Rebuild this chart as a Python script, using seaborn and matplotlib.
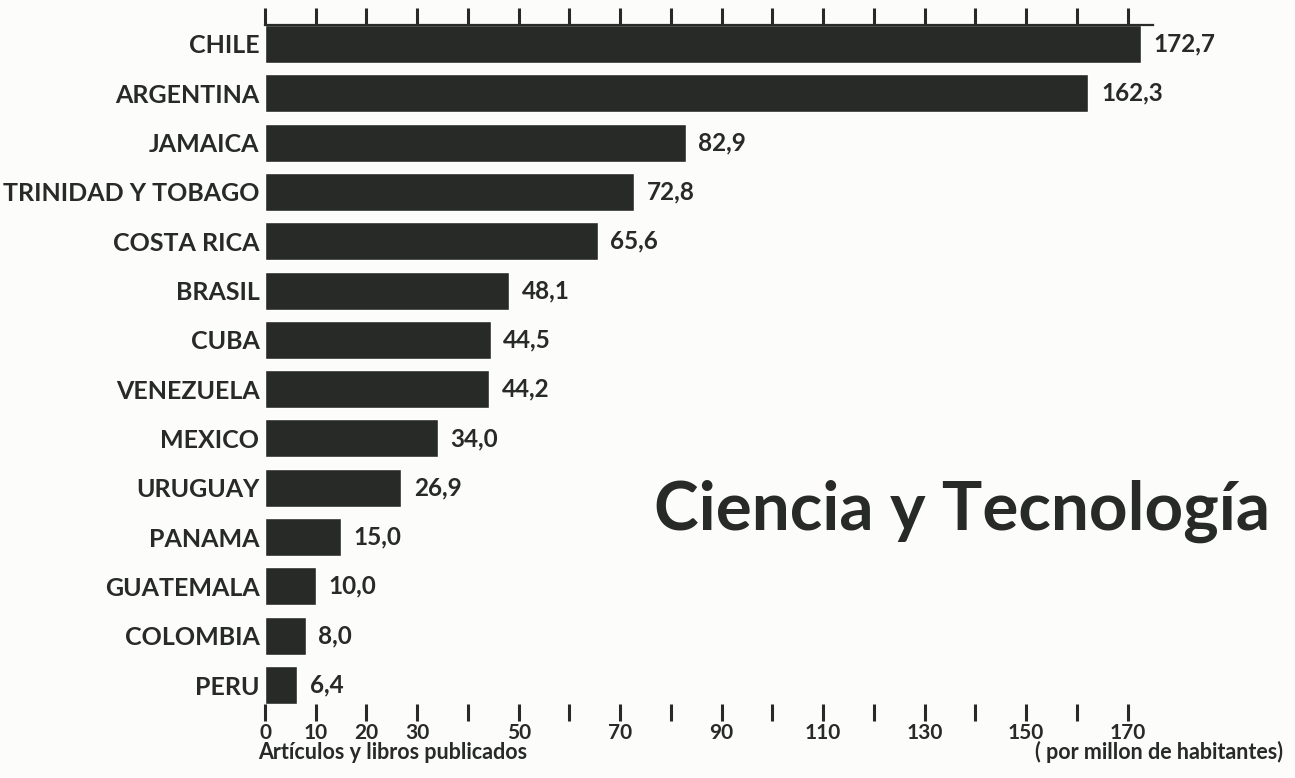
import pandas as pd
import numpy as np
import matplotlib
matplotlib.use("Agg")
import matplotlib.pyplot as plt
import seaborn as sns

# ## Data

paises = ["CHILE", "ARGENTINA", "JAMAICA", "TRINIDAD Y TOBAGO", "COSTA RICA",
          "BRASIL", "CUBA", "VENEZUELA", "MEXICO", "URUGUAY", "PANAMA",
          "GUATEMALA", "COLOMBIA", "PERU"]
articulos = [172.7, 162.3, 82.9, 72.8, 65.6, 48.1, 44.5, 44.2, 34.0, 26.9,
             15.0, 10.0, 8.0, 6.4]
ticks_x = list(range(0, 180, 10))
ticks_con_texto = [0, 10, 20, 30, 50, 70, 90, 110, 130, 150, 170]

df = pd.DataFrame({"pais": paises, "valor": articulos})

# ## Style

sns.set_theme(style="white")
plt.rcParams["font.family"] = ["Lato", "DejaVu Sans"]
plt.rcParams["font.weight"] = "bold"
tinta = "#272a27"
fondo = "#fcfcfa"

W, H = 1295, 778
fig = plt.figure(figsize=(W / 100, H / 100), dpi=100, facecolor=fondo)
# axes box: left at x=0 of data, top at Chile bar top, bottom at Peru bar bottom
ax = fig.add_axes([265 / W, 1 - 704 / H, 1 - 265 / W, (704 - 25) / H])
ax.set_facecolor(fondo)

sns.barplot(data=df, x="valor", y="pais", orient="h", color=tinta,
            saturation=1, width=0.77, ax=ax)

ax.set_xlim(0, 203)
ax.set_ylim(13.385, -0.385)

# value labels with comma decimals
ax.bar_label(ax.containers[0], labels=[f"{v:.1f}".replace(".", ",") for v in articulos],
             padding=9, fontsize=17.5, fontweight="bold", color=tinta)

ax.set_ylabel("")
ax.set_xlabel("")
ax.tick_params(axis="y", length=0, pad=4, labelsize=18, labelcolor=tinta)
for t in ax.get_yticklabels():
    t.set_fontweight("bold")

# top line with ticks, bottom only tick marks
for s in ["left", "right", "bottom"]:
    ax.spines[s].set_visible(False)
ax.spines["top"].set_color(tinta)
ax.spines["top"].set_linewidth(1.6)
ax.spines["top"].set_bounds(0, 175)

ax.set_xticks(ticks_x)
ax.tick_params(axis="x", which="major", bottom=True, top=True, direction="out",
               length=12, width=2.2, color=tinta, labelcolor=tinta, pad=1.5)
ax.set_xticklabels([str(t) if t in ticks_con_texto else "" for t in ticks_x],
                   fontsize=15, fontweight="bold", color=tinta)

fig.text(258 / W, 1 - 759 / H, "Artículos y libros publicados", ha="left",
         va="baseline", fontsize=15.5, fontweight="bold", color=tinta)
fig.text(1283 / W, 1 - 759 / H, "( por millon de habitantes)", ha="right",
         va="baseline", fontsize=15.5, fontweight="bold", color=tinta)

fig.text(1270 / W, 1 - 530 / H, "Ciencia y Tecnología", ha="right",
         va="baseline", fontsize=48.5, fontweight="bold", color=tinta)

plt.savefig("out.png", dpi=100, facecolor=fondo)
